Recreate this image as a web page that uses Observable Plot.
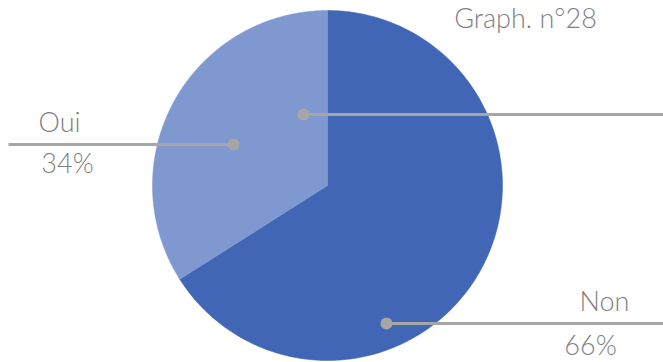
<!DOCTYPE html>
<html><head><meta charset="utf-8">
<script src="https://cdn.jsdelivr.net/npm/d3@7"></script>
<script src="https://cdn.jsdelivr.net/npm/@observablehq/plot@0.6"></script>
<style>
html,body{margin:0;padding:0;background:#fff;}
svg{display:block;}
</style>
</head><body>
<div id="chart"></div>
<script>
const categories = ["Non", "Oui"];
const values = [66, 34];
const percentLabels = ["66%", "34%"];
const colors = ["#4066b5", "#7f99d0"];
const title = "Graph. n°28";

const W = 663, H = 362;
const cx = 327, cy = 185, R = 175;

// pie slices starting at 12 o'clock, clockwise
const total = d3.sum(values);
const slices = [];
let a0 = 0;
categories.forEach((c, i) => {
  const a1 = a0 + values[i] / total * 2 * Math.PI;
  const pts = [{cat: c, x: cx, y: cy}];
  const n = 200;
  for (let k = 0; k <= n; k++) {
    const a = a0 + (a1 - a0) * k / n;
    pts.push({cat: c, x: cx + R * Math.sin(a), y: cy - R * Math.cos(a)});
  }
  pts.push({cat: c, x: cx, y: cy});
  slices.push(...pts);
  a0 = a1;
});

// leader lines (layout)
const leaders = [
  {x1: 8, x2: 233, y: 144, dx: 233},
  {x1: 303, x2: 663, y: 114, dx: 303},
  {x1: 386, x2: 663, y: 323, dx: 386}
];
const labelPos = {
  "Oui": {xName: 59, yName: 122.5, xPct: 67, yPct: 163.5},
  "Non": {xName: 604, yName: 302, xPct: 590, yPct: 345.5}
};
const texts = [];
categories.forEach((c, i) => {
  const p = labelPos[c];
  texts.push({x: p.xName, y: p.yName, t: c});
  texts.push({x: p.xPct, y: p.yPct, t: percentLabels[i]});
});
texts.push({x: 525, y: 19, t: title});

const chart = Plot.plot({
  width: W, height: H,
  margin: 0,
  x: {domain: [0, W], range: [0, W], axis: null},
  y: {domain: [0, H], range: [0, H], axis: null},
  color: {domain: categories, range: colors},
  style: {background: "#fff"},
  marks: [
    Plot.line(slices, {x: "x", y: "y", z: "cat", fill: "cat", stroke: "cat", strokeWidth: 0.5, curve: "linear"}),
    Plot.link(leaders, {x1: "x1", x2: "x2", y1: "y", y2: "y", stroke: "#a6a6a6", strokeWidth: 3}),
    Plot.dot(leaders, {x: "dx", y: "y", r: 6, fill: "#a6a6a6"}),
    Plot.text(texts, {x: "x", y: "y", text: "t", fill: "#7f7f7f", fontSize: 27, fontWeight: 300, fontFamily: "Lato", lineAnchor: "middle", textAnchor: "middle"})
  ]
});
document.getElementById("chart").appendChild(chart);
</script>
</body></html>
